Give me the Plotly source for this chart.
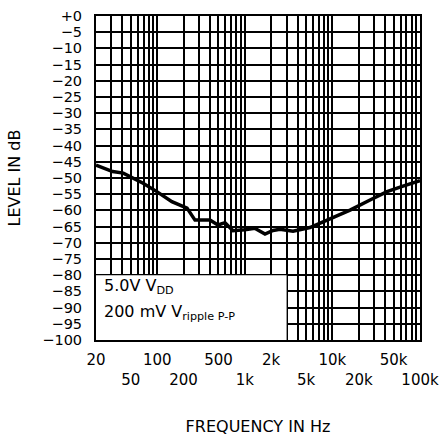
import plotly.graph_objects as go

freq_hz = [20, 31, 41, 53, 69, 99, 147, 219, 270, 400, 494, 594, 733, 1000, 1300, 1700, 2100, 2520, 3550, 5540, 8670, 15900, 26900, 42000, 64000, 94900, 100000]
level_db = [-46.0, -48.0, -48.5, -50.0, -51.6, -54.2, -57.3, -59.3, -63.0, -63.0, -64.5, -63.8, -66.3, -66.0, -65.5, -67.3, -66.2, -65.8, -66.4, -65.3, -63.0, -59.9, -56.8, -54.2, -52.5, -51.1, -50.8]

grid_x = [v * m for m in (10, 100, 1000, 10000) for v in range(1, 10)] + [100000]
grid_x = [g for g in grid_x if g >= 20]
x_tick_vals = [20, 50, 100, 200, 500, 1000, 2000, 5000, 10000, 20000, 50000, 100000]
x_tick_text = ["20", "<br>50", "100", "<br>200", "500", "<br>1k",
               "2k", "<br>5k", "10k", "<br>20k", "50k", "<br>100k"]

y_vals = list(range(0, -101, -5))
y_text = ["+0" if v == 0 else "\u2212" + str(-v) for v in y_vals]

font = "DejaVu Sans"

fig = go.Figure()
fig.add_trace(go.Scatter(x=freq_hz, y=level_db, mode="lines",
                         line=dict(color="black", width=3.5), hoverinfo="skip"))

fig.update_layout(
    width=440, height=436,
    margin=dict(l=96, r=20, t=16, b=96),
    paper_bgcolor="white", plot_bgcolor="white",
    showlegend=False,
    font=dict(family=font, size=15, color="black"),
    xaxis=dict(type="log", range=[1.30103, 5.0001], tickvals=x_tick_vals, ticktext=x_tick_text,
               tickangle=0, tickfont=dict(size=15), automargin=False, ticklabeloverflow="allow",
               showgrid=True, gridcolor="black", gridwidth=1.5,
               minor=dict(tickvals=grid_x, showgrid=True, gridcolor="black", gridwidth=1.5, ticks=""),
               showline=True, linecolor="black", linewidth=2, mirror=True,
               ticks="", ticklabelstandoff=5, zeroline=False,
               title=dict(text="FREQUENCY IN Hz", standoff=35, font=dict(size=16))),
    yaxis=dict(range=[-100, 0], tickvals=y_vals, ticktext=y_text,
               tickfont=dict(size=14.5), automargin=False, ticklabeloverflow="allow",
               showgrid=True, gridcolor="black", gridwidth=1.5,
               showline=True, linecolor="black", linewidth=2, mirror=True,
               ticks="", ticklabelstandoff=9, zeroline=False,
               title=dict(text="LEVEL IN dB", standoff=18, font=dict(size=16))),
    shapes=[dict(type="rect", xref="x", yref="y", x0=20, x1=3000, y0=-100, y1=-80,
                 fillcolor="white", line=dict(width=0), layer="between")],
    annotations=[
        dict(xref="paper", yref="paper", x=0.02, y=0.165, xanchor="left", yanchor="middle",
             text="5.0V V<sub>DD</sub>", showarrow=False, font=dict(size=16)),
        dict(xref="paper", yref="paper", x=0.02, y=0.085, xanchor="left", yanchor="middle",
             text="200 mV V<sub>ripple P-P</sub>", showarrow=False, font=dict(size=16)),
    ],
)

fig.write_html("out.html", config={"displayModeBar": False},
               post_script="document.body.style.margin='0';document.body.style.overflow='hidden';")
